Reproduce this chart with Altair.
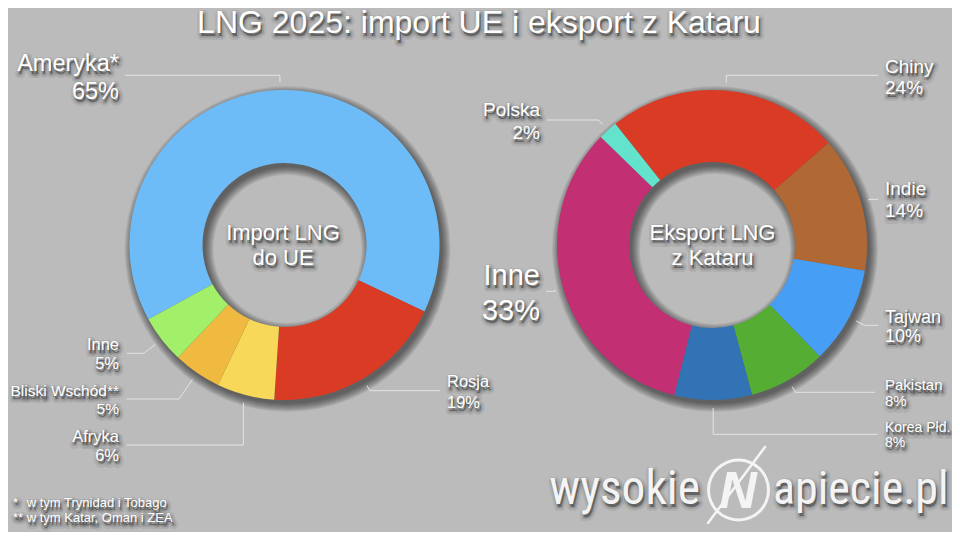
import math
import altair as alt
import pandas as pd

# ---------------- data ----------------
title_text = "LNG 2025: import UE i eksport z Kataru"

imp_names = ["Ameryka*", "Rosja", "Afryka", "Bliski Wschód**", "Inne"]
imp_values = [65, 19, 6, 5, 5]
imp_colors = ["#6ebcf7", "#d93b25", "#f8d858", "#efba3f", "#a2f06a"]

exp_names = ["Chiny", "Indie", "Tajwan", "Pakistan", "Korea Płd.", "Inne", "Polska"]
exp_values = [24, 14, 10, 8, 8, 33, 2]
exp_colors = ["#d93b25", "#b06834", "#469ef5", "#55ae33", "#3273b6", "#c22f73", "#63e3cc"]

center_left = ["Import LNG", "do UE"]
center_right = ["Eksport LNG", "z Kataru"]
foot_marks = ["*", "**"]
foot_texts = ["w tym Trynidad i Tobago", "w tym Katar, Oman i ZEA"]
brand_left = "wysokie"
brand_right = "apiecie.pl"
brand_mid = "N"

# ---------------- layout (page pixels) ----------------
W, H = 944, 524
M = 8
BG = "#bbbbbb"
FONT = "Liberation Sans"
BRAND_FONT = "Liberation Sans Narrow, Roboto Condensed, DejaVu Sans Condensed, Roboto"
LINE_COLOR = "#e4e4e4"

GL = dict(cx=284.5, cy=245, ro=155, ri=82, start=-118.6)
GR = dict(cx=712, cy=245, ro=155, ri=83, start=-38.6)

# text_x, name_baseline, pct_baseline, font size, align, line_y, line_end_x, bend
imp_layout = [
    (119, 71, 99, 23.5, "right", 75.3, 125, "v"),
    (447, 387.3, 408, 16.5, "left", 390.7, 440, "r"),
    (119, 441.7, 460.7, 16.5, "right", 445, 126.7, "v"),
    (119, 396, 414, 15.5, "right", 399, 126.7, "r"),
    (119, 350, 369, 16.5, "right", 353.3, 126.7, "r"),
]
exp_layout = [
    (885, 72.7, 94, 19, "left", 75.3, 878.3, "v"),
    (885, 195, 216.7, 19, "left", 199.3, 878.3, "v"),
    (885, 322.7, 342, 18, "left", 325.3, 878.3, "r"),
    (885, 390, 405.7, 15, "left", 392.3, 875, "r"),
    (885, 431.7, 447.3, 14, "left", 434.3, 877.7, "v"),
    (540, 285, 320, 29, "right", 291.3, 546, "v"),
    (540, 116, 139.3, 19, "right", 120, 546.7, "r"),
]

XS = alt.Scale(domain=[M, M + W], nice=False, zero=False)
YS = alt.Scale(domain=[M + H, M], nice=False, zero=False)


def enc_xy():
    return dict(
        x=alt.X("x:Q", scale=XS, axis=None),
        y=alt.Y("y:Q", scale=YS, axis=None),
    )


def anchors(values, geo, gap=8):
    total = float(sum(values))
    acc = 0.0
    out = []
    for v in values:
        mid = geo["start"] + (acc + v / 2.0) / total * 360.0
        acc += v
        a = math.radians(mid)
        r = geo["ro"] + gap
        out.append((geo["cx"] + r * math.sin(a), geo["cy"] - r * math.cos(a), a))
    return out


def leader_rows(names, values, geo, layout, prefix):
    rows = []
    for (name, (ax, ay, a), lay) in zip(names, anchors(values, geo), layout):
        _, _, _, _, _, ly, ex, bend = lay
        if bend == "r" and abs(math.cos(a)) > 1e-6:
            r = (geo["cy"] - ly) / math.cos(a)
            if r < geo["ro"] + 8:
                bx = ax
            else:
                bx = geo["cx"] + r * math.sin(a)
        else:
            bx = ax
        key = prefix + name
        rows += [
            dict(key=key, o=0, x=ax, y=ay),
            dict(key=key, o=1, x=bx, y=ly),
            dict(key=key, o=2, x=ex, y=ly),
        ]
    return rows


def label_rows(names, values, layout):
    rows = {"left": [], "right": []}
    for name, v, lay in zip(names, values, layout):
        tx, b1, b2, fs, al, *_ = lay
        rows[al].append(dict(x=tx, y=b1, text=name, size=fs))
        rows[al].append(dict(x=tx, y=b2, text=f"{v}%", size=fs))
    return rows


def text_layers(rows, align, font=FONT, weight="normal", style="normal",
                color="#ffffff", shadow=True):
    df = pd.DataFrame(rows)
    enc = enc_xy()
    enc.update(text="text:N", size=alt.Size("size:Q", scale=None, legend=None))
    base = alt.Chart(df)
    common = dict(align=align, baseline="alphabetic", font=font,
                  fontWeight=weight, fontStyle=style)
    out = []
    if shadow:
        out.append(base.mark_text(fill="black", fillOpacity=0.14, stroke="black",
                                  strokeOpacity=0.07, strokeWidth=8, strokeJoin="round",
                                  dx=1.5, dy=3, **common).encode(**enc))
        out.append(base.mark_text(fill="black", fillOpacity=0.25, stroke="black",
                                  strokeOpacity=0.14, strokeWidth=3.5, strokeJoin="round",
                                  dx=1.5, dy=2.5, **common).encode(**enc))
    out.append(base.mark_text(fill=color, **common).encode(**enc))
    return out


def donut(names, values, colors, geo):
    df = pd.DataFrame({"name": names, "value": values, "color": colors,
                       "idx": list(range(len(names)))})
    a0 = math.radians(geo["start"])
    return alt.Chart(df).mark_arc(innerRadius=geo["ri"], outerRadius=geo["ro"]).encode(
        theta=alt.Theta("value:Q", stack=True,
                        scale=alt.Scale(range=[a0, a0 + 2 * math.pi], zero=True, nice=False)),
        order=alt.Order("idx:Q"),
        color=alt.Color("color:N", scale=None),
        x=alt.value(geo["cx"] - M),
        y=alt.value(geo["cy"] - M),
    )


def ring_shadow(geo, steps=9, dx=3, dy=4, op=0.065):
    one = pd.DataFrame({"k": [0]})
    out = []
    for k in range(steps):
        out.append(alt.Chart(one).mark_arc(
            theta=0, theta2=2 * math.pi,
            innerRadius=max(geo["ri"] - k, 0), outerRadius=geo["ro"] + k,
            color="black", opacity=op,
        ).encode(x=alt.value(geo["cx"] - M + dx), y=alt.value(geo["cy"] - M + dy)))
    return out


layers = []
layers += ring_shadow(GL)
layers += ring_shadow(GR)
layers.append(donut(imp_names, imp_values, imp_colors, GL))
layers.append(donut(exp_names, exp_values, exp_colors, GR))

# leader lines
lines_df = pd.DataFrame(leader_rows(imp_names, imp_values, GL, imp_layout, "L")
                        + leader_rows(exp_names, exp_values, GR, exp_layout, "R"))
layers.append(alt.Chart(lines_df).mark_line(color=LINE_COLOR, strokeWidth=1).encode(
    detail="key:N", order="o:Q", **enc_xy()))

# labels
lr_l = label_rows(imp_names, imp_values, imp_layout)
lr_r = label_rows(exp_names, exp_values, exp_layout)
left_rows = lr_l["left"] + lr_r["left"]
right_rows = lr_l["right"] + lr_r["right"]
# footnotes
left_rows += [dict(x=13, y=507, text=foot_marks[0], size=13),
              dict(x=26.7, y=507, text=foot_texts[0], size=13),
              dict(x=13, y=522, text=foot_marks[1], size=13),
              dict(x=26.7, y=522, text=foot_texts[1], size=13)]
center_rows = [
    dict(x=479, y=33, text=title_text, size=32),
    dict(x=283, y=240, text=center_left[0], size=22),
    dict(x=283, y=265, text=center_left[1], size=22),
    dict(x=712.5, y=239.5, text=center_right[0], size=22),
    dict(x=712.5, y=265, text=center_right[1], size=22),
]
layers += text_layers(left_rows, "left")
layers += text_layers(right_rows, "right")
layers += text_layers(center_rows, "center")

# brand watermark
layers += text_layers([dict(x=700, y=504, text=brand_left, size=47.5)], "right",
                      font=BRAND_FONT, color="#f4f4f4")
layers += text_layers([dict(x=773, y=504, text=brand_right, size=46)], "left",
                      font=BRAND_FONT, color="#f4f4f4")
one = pd.DataFrame({"k": [0]})
layers.append(alt.Chart(one).mark_arc(theta=0, theta2=2 * math.pi, innerRadius=28.5,
                                      outerRadius=31.5, color="#f4f4f4").encode(
    x=alt.value(738.5 - M), y=alt.value(490 - M)))
layers += text_layers([dict(x=738, y=508, text=brand_mid, size=52)], "center",
                      font="Liberation Sans", weight="bold", style="italic",
                      color="#f4f4f4", shadow=False)
layers.append(alt.Chart(one).mark_rule(color="#f4f4f4", strokeWidth=2.5, strokeCap="round").encode(
    x=alt.value(765 - M), y=alt.value(447 - M), x2=alt.value(708 - M), y2=alt.value(523 - M)))

chart = alt.layer(*layers).resolve_scale(theta="independent").properties(
    width=W, height=H, background=BG, padding=0,
    autosize=alt.AutoSizeParams(type="none"),
).configure_view(stroke=None)

chart.save("out.html", embed_options={"renderer": "svg", "actions": False})
